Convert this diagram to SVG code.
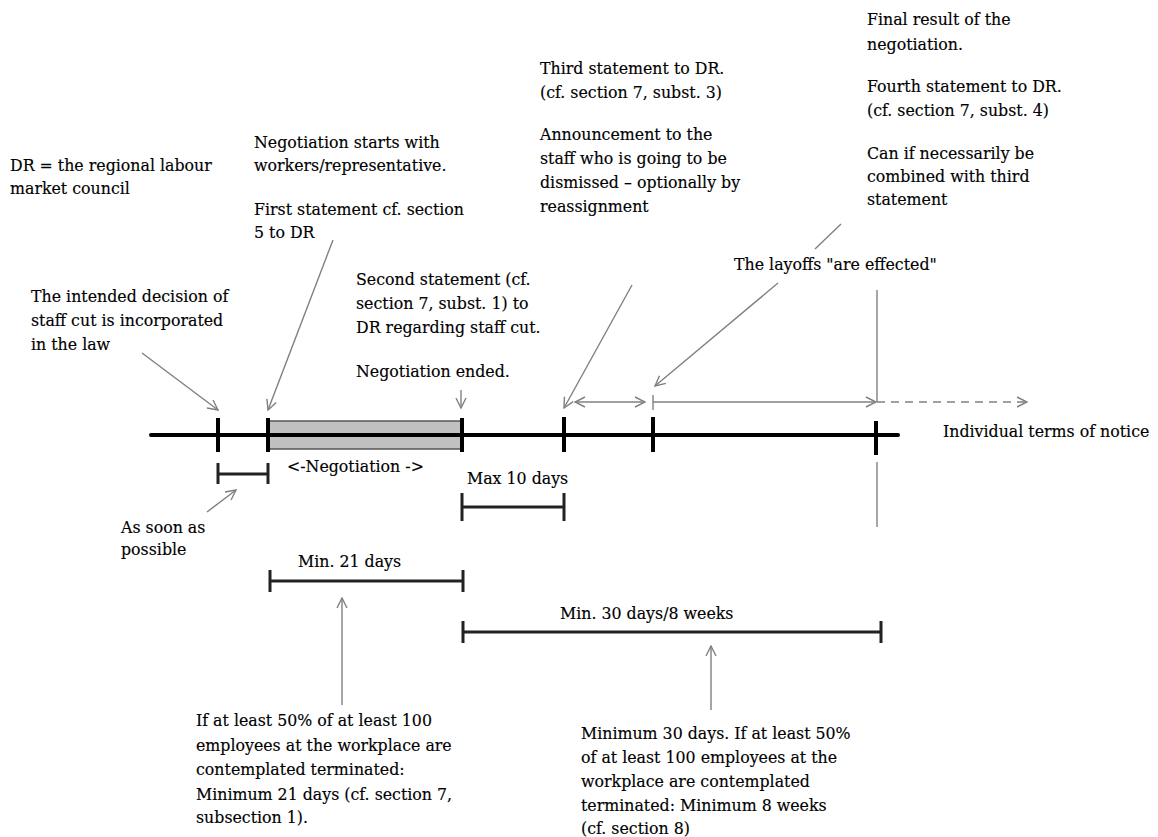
<svg xmlns="http://www.w3.org/2000/svg" width="1158" height="837" viewBox="0 0 1158 837">
<style>
text{font-family:"DejaVu Serif","Liberation Serif",serif;font-size:15.8px;fill:#000;stroke:#000;stroke-width:0.15}
.tl{stroke:#000;stroke-width:4;fill:none}
.br{stroke:#222;stroke-width:3;fill:none}
.ar{stroke:#808080;stroke-width:1.4;fill:none}
</style>
<defs>
<marker id="ah" viewBox="0 0 12 12" markerWidth="12" markerHeight="12" refX="11" refY="6" orient="auto-start-reverse" markerUnits="userSpaceOnUse">
<path d="M1,1 L11,6 L1,11" fill="none" stroke="#808080" stroke-width="1.4"/>
</marker>
</defs>

<g id="timeline">
<rect x="268" y="421" width="194" height="28" fill="#c0c0c0" stroke="#555" stroke-width="1.5"/>
<line class="tl" x1="151" y1="435" x2="898" y2="435" stroke-linecap="round"/>
<line class="tl" x1="218" y1="418" x2="218" y2="452"/>
<line class="tl" x1="268" y1="418" x2="268" y2="452"/>
<line class="tl" x1="462" y1="418" x2="462" y2="452"/>
<line class="tl" x1="564" y1="417" x2="564" y2="452"/>
<line class="tl" x1="653" y1="417" x2="653" y2="452"/>
<line class="tl" x1="876" y1="421" x2="876" y2="455"/>
</g>

<g id="brackets">
<path class="br" d="M218,463 V484 M218,474 H268 M268,463 V484"/>
<path class="br" d="M462,493 V521 M462,507 H564 M564,493 V521"/>
<path class="br" d="M270,570 V592 M270,581 H463 M463,570 V592"/>
<path class="br" d="M463,621 V643 M463,632 H881 M881,621 V643"/>
</g>

<g id="connectors">
<line class="ar" x1="142" y1="353" x2="218" y2="410" marker-end="url(#ah)"/>
<line class="ar" x1="333" y1="240" x2="268" y2="410" marker-end="url(#ah)"/>
<line class="ar" x1="461" y1="390" x2="461" y2="408" marker-end="url(#ah)"/>
<line class="ar" x1="632" y1="285" x2="564" y2="408" marker-end="url(#ah)"/>
<line class="ar" x1="575" y1="402" x2="645" y2="402" marker-start="url(#ah)" marker-end="url(#ah)"/>
<line class="ar" x1="778" y1="283" x2="655" y2="386" marker-end="url(#ah)"/>
<line class="ar" x1="841" y1="224" x2="815" y2="249"/>
<line class="ar" x1="653" y1="395" x2="653" y2="410"/>
<line class="ar" x1="653" y1="402" x2="876" y2="402" marker-end="url(#ah)"/>
<line class="ar" x1="877" y1="290" x2="877" y2="402"/>
<line class="ar" x1="877" y1="402" x2="1027" y2="402" stroke-dasharray="8,6" marker-end="url(#ah)"/>
<line class="ar" x1="877" y1="462" x2="877" y2="527"/>
<line class="ar" x1="207" y1="512" x2="236" y2="490" marker-end="url(#ah)"/>
<line class="ar" x1="342" y1="705" x2="342" y2="598" marker-end="url(#ah)"/>
<line class="ar" x1="711" y1="710" x2="711" y2="646" marker-end="url(#ah)"/>
</g>

<g id="n-dr"><text x="10" y="171">DR = the regional labour</text><text x="10" y="194">market council</text></g>
<g id="n-negstart"><text x="254" y="148">Negotiation starts with</text><text x="254" y="171">workers/representative.</text><text x="254" y="215">First statement cf. section</text><text x="254" y="238">5 to DR</text></g>
<g id="n-third"><text x="540" y="74">Third statement to DR.</text><text x="540" y="98">(cf. section 7, subst. 3)</text><text x="540" y="140">Announcement to the</text><text x="540" y="164">staff who is going to be</text><text x="540" y="188">dismissed – optionally by</text><text x="540" y="212">reassignment</text></g>
<g id="n-final"><text x="867" y="25">Final result of the</text><text x="867" y="50">negotiation.</text><text x="867" y="92">Fourth statement to DR.</text><text x="867" y="116">(cf. section 7, subst. 4)</text><text x="867" y="159">Can if necessarily be</text><text x="867" y="182">combined with third</text><text x="867" y="205">statement</text></g>
<g id="n-layoffs"><text x="734" y="270">The layoffs "are effected"</text></g>
<g id="n-intended"><text x="31" y="302">The intended decision of</text><text x="31" y="326">staff cut is incorporated</text><text x="31" y="350">in the law</text></g>
<g id="n-second"><text x="356" y="285">Second statement (cf.</text><text x="356" y="309">section 7, subst. 1) to</text><text x="356" y="333">DR regarding staff cut.</text><text x="356" y="377">Negotiation ended.</text></g>
<g id="n-individual"><text x="943" y="437">Individual terms of notice</text></g>
<g id="n-negotiation"><text x="287" y="472">&lt;-Negotiation -&gt;</text></g>
<g id="n-max10"><text x="467" y="484">Max 10 days</text></g>
<g id="n-asap"><text x="121" y="533">As soon as</text><text x="121" y="555">possible</text></g>
<g id="n-min21"><text x="298" y="567">Min. 21 days</text></g>
<g id="n-min30"><text x="560" y="619">Min. 30 days/8 weeks</text></g>
<g id="n-note21"><text x="196" y="726">If at least 50% of at least 100</text><text x="196" y="751">employees at the workplace are</text><text x="196" y="775">contemplated terminated:</text><text x="196" y="800">Minimum 21 days (cf. section 7,</text><text x="196" y="823">subsection 1).</text></g>
<g id="n-note30"><text x="581" y="739">Minimum 30 days. If at least 50%</text><text x="581" y="763">of at least 100 employees at the</text><text x="581" y="787">workplace are contemplated</text><text x="581" y="811">terminated: Minimum 8 weeks</text><text x="581" y="834">(cf. section 8)</text></g>
</svg>
